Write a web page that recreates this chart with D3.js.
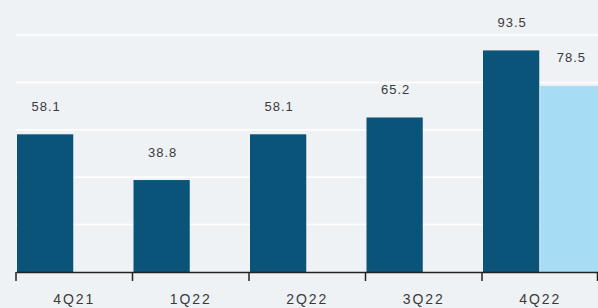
<!DOCTYPE html>
<html>
<head>
<meta charset="utf-8">
<script src="https://cdn.jsdelivr.net/npm/d3@7"></script>
<style>
  body { margin: 0; background: #eff2f5; }
  svg { display: block; }
</style>
</head>
<body>
<div id="chart"></div>
<script>
const quarters = ["4Q21", "1Q22", "2Q22", "3Q22", "4Q22"]
const mainVals = [58.1, 38.8, 58.1, 65.2, 93.5]
const extraVals = [null, null, null, null, 78.5]
const gridTicks = [20, 40, 60, 80, 100]

const [darkBlue, lightBlue, bg] = ["#0a5479", "#a7dcf5", "#eff2f5"]

const W = 598, H = 308
const left = 16, right = 598, base = 272

const svg = d3.select("#chart").append("svg")
  .attr("width", W).attr("height", H)

svg.append("rect").attr("width", W).attr("height", H).attr("fill", bg)

const x = d3.scaleBand().domain(quarters).range([left, right + 0.5]).padding(0)
const sub = d3.scaleBand().domain(["main", "extra"]).range([0, x.bandwidth()]).padding(0)
const y = d3.scaleLinear().domain([0, 100]).range([base, 35])

// white gridlines
svg.selectAll(".grid").data(gridTicks).enter()
  .append("line")
  .attr("class", "grid")
  .attr("x1", left).attr("x2", W)
  .attr("y1", d => y(d)).attr("y2", d => y(d))
  .attr("stroke", "#ffffff").attr("stroke-width", 1.5)

const rows = quarters.map((q, i) => ({q: q, main: mainVals[i], extra: extraVals[i]}))

svg.selectAll(".bar-main").data(rows).enter()
  .append("rect")
  .attr("x", d => x(d.q) + 1)
  .attr("width", sub.bandwidth() - 2)
  .attr("y", d => y(d.main))
  .attr("height", d => base - y(d.main))
  .attr("fill", darkBlue)

svg.selectAll(".bar-extra").data(rows.filter(d => d.extra != null)).enter()
  .append("rect")
  .attr("x", d => x(d.q) + sub("extra"))
  .attr("width", sub.bandwidth())
  .attr("y", d => y(d.extra))
  .attr("height", d => base - y(d.extra))
  .attr("fill", lightBlue)

const labelStyle = (sel, size, spacing) => sel
  .attr("text-anchor", "middle")
  .attr("font-family", "Liberation Sans, Arial, sans-serif")
  .attr("font-size", size)
  .attr("letter-spacing", spacing)
  .attr("fill", "#3a3a3a")

svg.selectAll(".lbl-main").data(rows).enter()
  .append("text")
  .attr("x", d => x(d.q) + sub.bandwidth() / 2 + 1)
  .attr("y", d => y(d.main) - 23)
  .text(d => d.main.toFixed(1))
  .call(labelStyle, "13px", "1px")

svg.selectAll(".lbl-extra").data(rows.filter(d => d.extra != null)).enter()
  .append("text")
  .attr("x", d => x(d.q) + sub("extra") + sub.bandwidth() / 2 + 2)
  .attr("y", d => y(d.extra) - 24)
  .text(d => d.extra.toFixed(1))
  .call(labelStyle, "13px", "1px")

// x axis
const axis = svg.append("g")
  .attr("transform", `translate(0,${base})`)
  .call(d3.axisBottom(x).tickSize(0).tickPadding(22))
axis.select(".domain").attr("stroke", "#222").attr("stroke-width", 1.5)
axis.selectAll("text").call(labelStyle, "14px", "2px")

// tick marks at band edges
const edges = quarters.map(q => x(q)).concat([x(quarters[quarters.length - 1]) + x.bandwidth() - 1])
svg.selectAll(".edge").data(edges).enter()
  .append("line")
  .attr("x1", d => d).attr("x2", d => d)
  .attr("y1", base).attr("y2", base + 9)
  .attr("stroke", "#222").attr("stroke-width", 1.5)
</script>
</body>
</html>
